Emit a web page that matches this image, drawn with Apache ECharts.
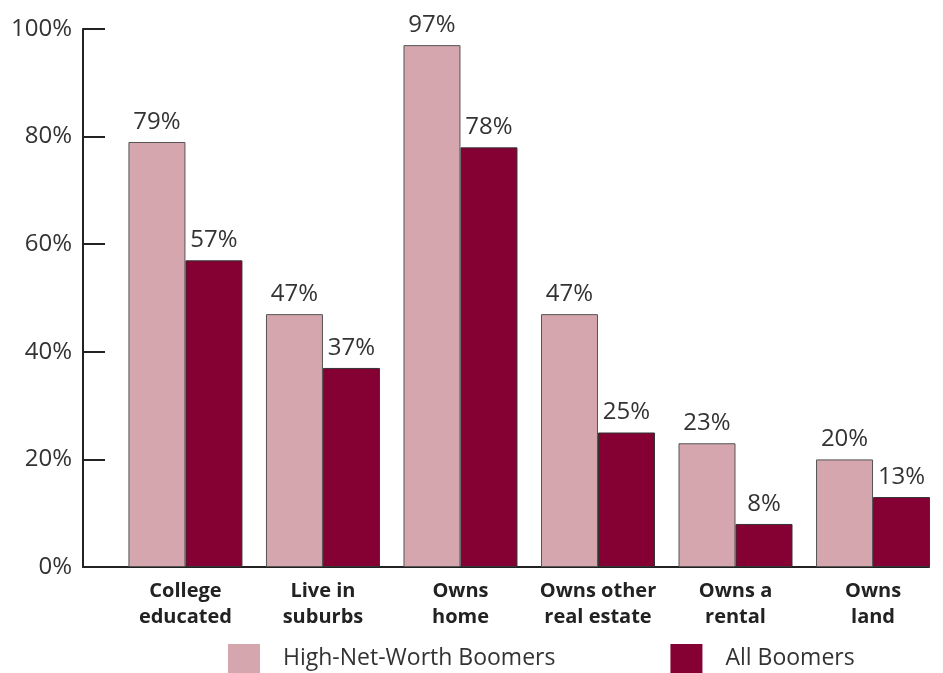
<!DOCTYPE html>
<html>
<head>
<meta charset="utf-8">
<script src="https://cdn.jsdelivr.net/npm/echarts@6/dist/echarts.min.js"></script>
<style>
  html, body { margin: 0; padding: 0; background: #fff; }
  #chart { width: 943px; height: 673px; }
</style>
</head>
<body>
<div id="chart"></div>
<script>
// Share of boomers with each attribute (%)
const categories = ['College\neducated', 'Live in\nsuburbs', 'Owns\nhome', 'Owns other\nreal estate', 'Owns a\nrental', 'Owns\nland'];
const highNetWorth = [79, 47, 97, 47, 23, 20];
const allBoomers = [57, 37, 78, 25, 8, 13];
const yTicks = [0, 20, 40, 60, 80, 100];

const FONT = '"Open Sans", "Noto Sans", sans-serif';
const LIGHT = '#d5a6ad';
const DARK = '#850033';

const chart = echarts.init(document.getElementById('chart'));

const valueLabel = {
  show: true,
  position: 'top',
  distance: 8,
  formatter: p => p.value[1] + '%',
  fontFamily: FONT,
  fontSize: 24,
  color: '#333'
};

chart.setOption({
  animation: false,
  grid: { left: 83, right: 14, top: 29, bottom: 106, containLabel: false },
  xAxis: {
    type: 'value',
    min: -0.745,
    max: 5.407,
    splitLine: { show: false },
    axisTick: { show: false },
    axisLine: { show: true, onZero: false, lineStyle: { color: '#222', width: 2 } },
    axisLabel: {
      show: true,
      customValues: categories.map((c, i) => i),
      formatter: v => categories[Math.round(v)] || '',
      fontFamily: FONT,
      fontWeight: 'bold',
      fontSize: 20,
      lineHeight: 26,
      color: '#222',
      margin: 11
    }
  },
  yAxis: {
    type: 'value',
    min: 0,
    max: 100,
    interval: 20,
    splitLine: { show: false },
    axisLine: { show: true, onZero: false, lineStyle: { color: '#222', width: 2 } },
    axisTick: { show: true, inside: true, length: 22, lineStyle: { color: '#222', width: 2 } },
    axisLabel: {
      formatter: v => yTicks.includes(v) ? v + '%' : '',
      fontFamily: FONT,
      fontSize: 24,
      color: '#333',
      margin: 11
    }
  },
  legend: {
    left: 228,
    top: 644,
    padding: 0,
    itemWidth: 32,
    itemHeight: 29,
    itemGap: 115,
    icon: 'rect',
    textStyle: { fontFamily: FONT, fontSize: 23, color: '#333', padding: [0, 0, 0, 18] },
    itemStyle: { borderWidth: 0 },
    data: ['High-Net-Worth Boomers', 'All Boomers']
  },
  series: [
    {
      name: 'High-Net-Worth Boomers',
      type: 'bar',
      barWidth: 57,
      barGap: '0%',
      data: highNetWorth.map((v, i) => [i, v]),
      itemStyle: { color: LIGHT, borderColor: '#555', borderWidth: 1 },
      label: valueLabel
    },
    {
      name: 'All Boomers',
      type: 'bar',
      barWidth: 57,
      barGap: '0%',
      data: allBoomers.map((v, i) => [i, v]),
      itemStyle: { color: DARK, borderColor: '#333', borderWidth: 1 },
      label: valueLabel
    }
  ]
});
</script>
</body>
</html>
